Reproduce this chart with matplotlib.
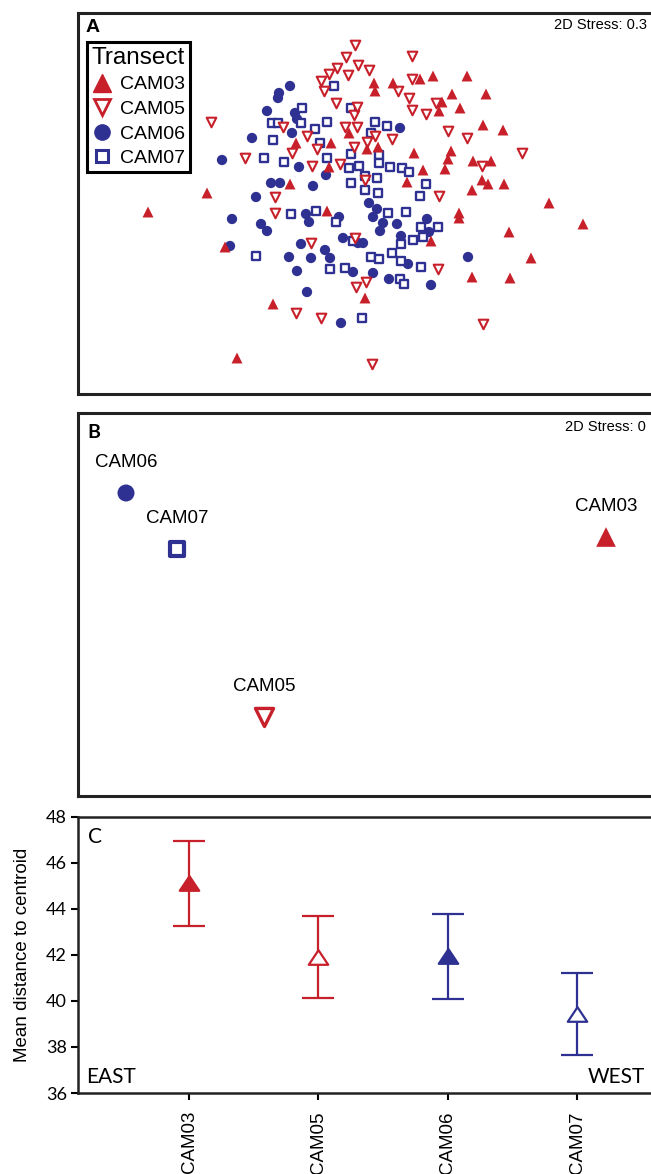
import matplotlib
matplotlib.use('Agg')
import matplotlib.pyplot as plt
from matplotlib.lines import Line2D
from matplotlib.path import Path
import numpy as np

plt.rcParams['font.family'] = ['Liberation Sans', 'DejaVu Sans']

RED = '#C8202A'
BLUE = '#2E3192'

transects = ['CAM03', 'CAM05', 'CAM06', 'CAM07']

# ---------------- Panel A: nMDS of samples ----------------
cam03_x = [-2.17, -1.40, -1.28, -0.92, -1.58, -0.75, -0.69, -0.34, -0.36, -0.16, 0.02, 0.13,
           0.09, 0.10, 0.28, 0.55, 0.68, 1.02, 0.87, 0.77, 0.74, 0.95, 1.21, 1.18, 1.38,
           0.49, 0.86, 0.83, 1.08, 1.26, 0.58, 0.80, 0.42, 1.17, 1.23, 1.39, 1.07, 1.84,
           0.94, 0.94, 2.18, 1.44, 0.66, 1.66, 1.07, 1.45, 0.00, -0.38]
cam03_y = [-0.07, -0.42, -1.53, -0.99, 0.12, 0.21, 0.62, 0.62, 0.38, 0.72, 0.56, 0.58,
           1.22, 1.14, 1.22, 1.26, 1.29, 1.29, 1.11, 1.03, 0.94, 0.97, 1.11, 0.80, 0.75,
           0.52, 0.54, 0.46, 0.44, 0.44, 0.35, 0.36, 0.23, 0.25, 0.21, 0.21, 0.15, 0.02,
           -0.08, -0.13, -0.19, -0.27, -0.36, -0.53, -0.72, -0.73, -0.93, -0.06]

cam05_x = [-1.54, -1.20, -0.90, -0.90, -0.73, -0.82, -0.58, -0.53, -0.48, -0.25, -0.20, -0.08,
           -0.11, -0.08, -0.29, -0.41, -0.44, -0.36, -0.28, -0.17, -0.19, -0.10, -0.07, 0.04,
           -0.11, 0.02, 0.10, 0.27, 0.33, 0.44, 0.47, 0.47, 0.47, 0.61, 0.71, 0.83, 1.02,
           1.57, 1.17, 0.00, 0.74, -0.54, -0.10, 0.73, 0.01, -0.09, -0.69, -0.44, 1.18, 0.07]
cam05_y = [0.83, 0.47, 0.08, -0.08, 0.52, 0.78, 0.69, 0.39, 0.56, 0.41, 0.78, 0.78,
           0.90, 0.98, 1.02, 1.14, 1.24, 1.31, 1.37, 1.30, 1.48, 1.60, 1.40, 1.35,
           0.58, 0.63, 0.69, 0.66, 1.14, 1.07, 1.49, 1.26, 0.95, 0.91, 1.02, 0.74, 0.67,
           0.52, 0.39, 0.25, 0.09, -0.38, -0.33, -0.64, -0.77, -0.82, -1.08, -1.13, -1.19, -1.59]

cam06_x = [-0.75, -0.86, -0.87, -0.98, -0.70, -0.68, -0.73, -1.13, -1.43, -0.66, -0.39, -0.94,
           -0.85, -0.52, -1.09, 0.35, -1.33, -1.04, -0.98, -0.59, -0.56, -0.26, -1.35, -0.64,
           -0.22, -0.07, -0.02, -0.76, -0.54, -0.40, -0.35, -0.68, -0.12, -0.58, -0.24, 0.04,
           0.12, 0.08, 0.18, 0.15, 0.32, 0.62, 0.64, 0.36, 0.43, 0.08, 0.24, 0.66, 1.03]
cam06_y = [1.19, 1.12, 1.07, 0.94, 0.92, 0.86, 0.72, 0.67, 0.45, 0.38, 0.30, 0.22,
           0.22, 0.19, 0.08, 0.77, -0.14, -0.19, -0.26, -0.09, -0.17, -0.12, -0.41, -0.39,
           -0.33, -0.38, -0.38, -0.52, -0.53, -0.45, -0.53, -0.66, -0.67, -0.87, -1.18, 0.02,
           -0.04, -0.12, -0.18, -0.26, -0.19, -0.14, -0.27, -0.31, -0.59, -0.68, -0.74, -0.80, -0.52]

cam07_x = [-0.31, -0.63, -0.14, -0.93, -0.87, -0.64, -0.50, -0.38, 0.10, 0.22, 0.06, -0.92,
           -0.45, -1.01, -0.81, -0.38, -0.14, 0.14, 0.14, -0.16, -0.06, 0.25, 0.37, 0.44,
           0.12, 0.00, -0.14, 0.00, 0.13, 0.55, 0.61, -0.74, -0.49, -0.29, -1.09, -0.35,
           -0.20, -0.12, -0.03, 0.23, 0.41, 0.56, 0.73, 0.58, 0.48, 0.36, 0.06, 0.14, 0.27,
           0.36, 0.56, 0.35, 0.39]
cam07_y = [1.19, 0.97, 0.97, 0.82, 0.82, 0.82, 0.76, 0.83, 0.83, 0.79, 0.72, 0.65,
           0.62, 0.47, 0.43, 0.47, 0.51, 0.50, 0.42, 0.37, 0.39, 0.38, 0.37, 0.33,
           0.27, 0.29, 0.22, 0.15, 0.12, 0.09, 0.21, -0.09, -0.06, -0.17, -0.51, -0.64,
           -0.63, -0.36, -1.13, -0.08, -0.07, -0.22, -0.22, -0.32, -0.35, -0.39, -0.52, -0.54, -0.48,
           -0.56, -0.62, -0.74, -0.79]

stress_a = '2D Stress: 0.3'

# ---------------- Panel B: nMDS of centroids ----------------
cent_x = [2.41, -1.01, -2.39, -1.88]
cent_y = [0.68, -1.12, 1.12, 0.56]
stress_b = '2D Stress: 0'

# ---------------- Panel C: mean distance to centroid ----------------
dist_mean = [45.10, 41.90, 41.93, 39.43]
dist_err = [1.84, 1.79, 1.84, 1.77]
yticks_c = [36, 38, 40, 42, 44, 46, 48]

W, H = 651, 1174
fig = plt.figure(figsize=(W / 100, H / 100), dpi=100)


def rect(l, t, r, b):
    return [l / W, 1 - b / H, (r - l) / W, (b - t) / H]


def frame(ax, lw=2.2):
    ax.set_xticks([])
    ax.set_yticks([])
    for s in ax.spines.values():
        s.set_linewidth(lw)
        s.set_color('#222222')


# ---- A ----
axA = fig.add_axes(rect(78, 13, 656, 394))
frame(axA)
axA.set_xlim(-2.87, 2.91)
axA.set_ylim(-1.89, 1.92)
axA.scatter(cam06_x, cam06_y, s=55, marker='o', color=BLUE, edgecolors='none', zorder=3)
axA.scatter(cam07_x, cam07_y, s=32, marker='s', facecolors='white', edgecolors=BLUE,
            linewidths=1.7, zorder=4)
axA.scatter(cam05_x, cam05_y, s=48, marker='v', facecolors='white', edgecolors=RED,
            linewidths=1.5, zorder=5)
axA.scatter(cam03_x, cam03_y, s=62, marker='^', color=RED, edgecolors='none', zorder=6)
axA.text((93 - 78) / 578, 1 - (27 - 13) / 381, 'A', transform=axA.transAxes,
         fontsize=14, fontweight='bold', ha='center', va='center')
axA.text((647 - 78) / 578, 1 - (25 - 13) / 381, stress_a, transform=axA.transAxes,
         fontsize=10.5, ha='right', va='center')

handles = [
    Line2D([], [], linestyle='none', marker='^', markersize=13, color=RED, markeredgecolor=RED),
    Line2D([], [], linestyle='none', marker='v', markersize=11, markerfacecolor='white',
           markeredgecolor=RED, markeredgewidth=2),
    Line2D([], [], linestyle='none', marker='o', markersize=11, color=BLUE),
    Line2D([], [], linestyle='none', marker='s', markersize=8.5, markerfacecolor='white',
           markeredgecolor=BLUE, markeredgewidth=2.2),
]
leg = axA.legend(handles, transects, title='Transect', loc='upper left',
                 bbox_to_anchor=((87 - 78) / 578, 1 - (42 - 13) / 381), borderaxespad=0,
                 frameon=True, fancybox=False, edgecolor='black', framealpha=1,
                 fontsize=14, title_fontsize=17.5, handlelength=1.0, handletextpad=0.45,
                 labelspacing=0.36, borderpad=0.25, alignment='left')
leg.get_frame().set_linewidth(2.2)
leg.set_zorder(10)

# ---- B ----
axB = fig.add_axes(rect(78, 413, 656, 796))
frame(axB)
axB.set_xlim(-2.87, 2.91)
axB.set_ylim(-1.91, 1.92)
styles = [
    dict(marker='^', s=200, color=RED, edgecolors='none'),
    dict(marker='v', s=170, facecolors='white', edgecolors=RED, linewidths=2.4),
    dict(marker='o', s=150, color=BLUE, edgecolors='none'),
    dict(marker='s', s=90, facecolors='white', edgecolors=BLUE, linewidths=3),
]
for name, x, y, st in zip(transects, cent_x, cent_y, styles):
    axB.scatter([x], [y], zorder=3, **st)
    axB.annotate(name, (x, y), xytext=(0, 16), textcoords='offset points',
                 ha='center', va='bottom', fontsize=13.5)
axB.text((94 - 78) / 578, 1 - (432 - 413) / 383, 'B', transform=axB.transAxes,
         fontsize=14, fontweight='bold', ha='center', va='center', family=['Lato', 'DejaVu Sans'])
axB.text((646 - 78) / 578, 1 - (427 - 413) / 383, stress_b, transform=axB.transAxes,
         fontsize=10.5, ha='right', va='center')

# ---- C ----
axC = fig.add_axes(rect(78, 816.7, 656, 1093))
xpos = np.arange(len(transects))
cols = [RED, RED, BLUE, BLUE]
fills = [RED, 'white', BLUE, 'white']
tri = Path([(-1.0, -0.75), (1.0, -0.75), (0.0, 0.75), (-1.0, -0.75)],
           [Path.MOVETO, Path.LINETO, Path.LINETO, Path.CLOSEPOLY])
for x, m, e, c, f in zip(xpos, dist_mean, dist_err, cols, fills):
    axC.errorbar([x], [m], yerr=[e], fmt='none', ecolor=c, elinewidth=1.6,
                 capsize=11.5, capthick=1.6, zorder=2)
    axC.plot([x], [m], linestyle='none', marker=tri, markersize=14,
             markerfacecolor=f, markeredgecolor=c, markeredgewidth=1.6, zorder=3)
axC.set_xlim(-0.858, 3.609)
axC.set_ylim(36, 48)
axC.set_yticks(yticks_c)
axC.set_xticks(xpos)
axC.set_xticklabels(transects, rotation=90, fontsize=13.5)
for lab in axC.get_yticklabels():
    lab.set_fontfamily(['Lato', 'DejaVu Sans'])
    lab.set_fontsize(13)
axC.tick_params(axis='y', direction='out', length=5, width=1.5, pad=3)
axC.tick_params(axis='x', direction='out', length=5, width=1.5, pad=8)
for s in axC.spines.values():
    s.set_linewidth(1.8)
    s.set_color('#222222')
axC.set_ylabel('Mean distance to centroid', fontsize=13.5, labelpad=11)
axC.text((95 - 78) / 578, 1 - (837 - 816.7) / 276.3, 'C', transform=axC.transAxes,
         fontsize=15, ha='center', va='center', family=['Lato', 'DejaVu Sans'])
axC.text((86 - 78) / 578, 1 - (1077 - 816.7) / 276.3, 'EAST', transform=axC.transAxes,
         fontsize=15, ha='left', va='center', family=['Lato', 'DejaVu Sans'])
axC.text((645 - 78) / 578, 1 - (1077 - 816.7) / 276.3, 'WEST', transform=axC.transAxes,
         fontsize=15, ha='right', va='center', family=['Lato', 'DejaVu Sans'])

fig.savefig('out.png', dpi=100)
